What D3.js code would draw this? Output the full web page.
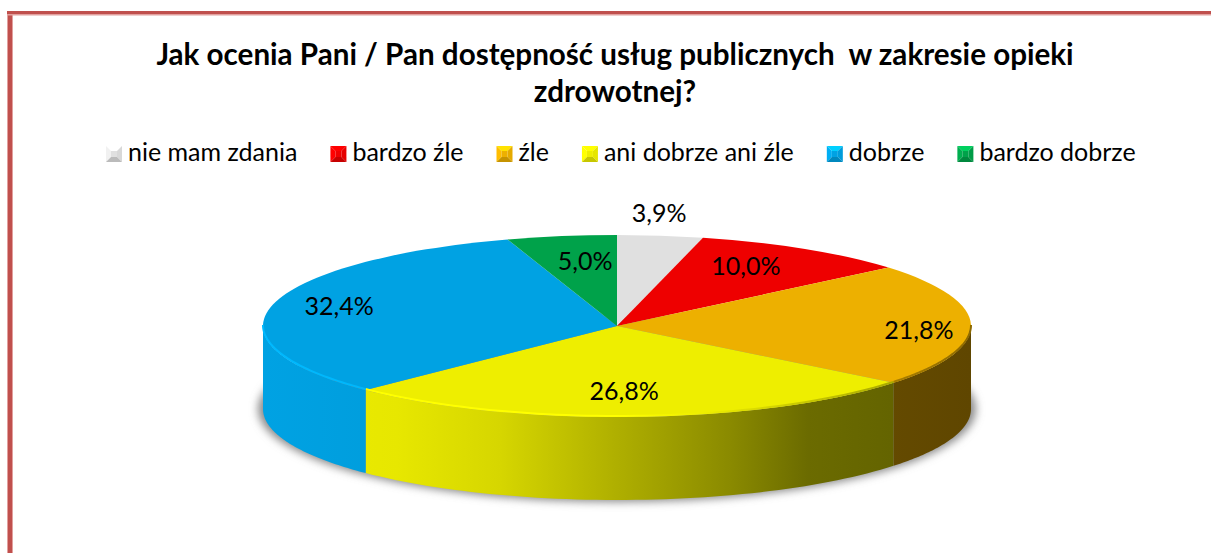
<!DOCTYPE html>
<html>
<head>
<meta charset="utf-8">
<script src="https://cdn.jsdelivr.net/npm/d3@7"></script>
<style>
  html, body { margin: 0; padding: 0; background: #fff; }
  text { font-family: Lato, "Noto Sans", sans-serif; fill: #000; }
</style>
</head>
<body>
<div class="chart"></div>
<script>
// chart data
var categories = ["nie mam zdania", "bardzo źle", "źle", "ani dobrze ani źle", "dobrze", "bardzo dobrze"];
var values = [3.9, 10.0, 21.8, 26.8, 32.4, 5.0];
var valueLabels = ["3,9%", "10,0%", "21,8%", "26,8%", "32,4%", "5,0%"];
var colors = ["#e0e0e0", "#ee0000", "#edb000", "#eeee00", "#00a2e3", "#00a24a"];
var titleLines = ["Jak ocenia Pani / Pan dostępność usług publicznych  w zakresie opieki", "zdrowotnej?"];

// label centres as fractions of the pie radii, measured from the pie centre
var labelFactors = [[0.119, -1.22], [0.364, -0.64], [0.853, 0.07], [0.02, 0.74], [-0.785, -0.2], [-0.09, -0.69]];

var width = 1211,
    height = 553,
    cx = 617,
    cy = 326,
    rx = 354,
    ry = 91,
    depth = 83;

var svg = d3.select(".chart").append("svg")
    .attr("width", width)
    .attr("height", height)
    .style("display", "block");

var defs = svg.append("defs");

// frame, only the left and top edges are inside the crop
svg.append("rect").attr("x", 7).attr("y", 11).attr("width", 6).attr("height", height - 11).attr("fill", "#e2a09e");
svg.append("rect").attr("x", 8).attr("y", 11).attr("width", 4).attr("height", height - 11).attr("fill", "#c0504d");
svg.append("rect").attr("x", 7).attr("y", 14).attr("width", width - 7).attr("height", 1.5).attr("fill", "#e2a09e");
svg.append("rect").attr("x", 7).attr("y", 11).attr("width", width - 7).attr("height", 3).attr("fill", "#c0504d");

// title
svg.selectAll(".title")
    .data(titleLines)
    .enter().append("text")
    .attr("class", "title")
    .attr("x", 615)
    .attr("y", function (d, i) { return 65 + i * 37; })
    .attr("text-anchor", "middle")
    .style("font-size", "29.6px")
    .style("font-weight", "bold")
    .style("white-space", "pre")
    .text(function (d) { return d; });

// legend, laid out from the measured text widths
var legend = svg.append("g").attr("class", "legend");
var legendX = 0;
categories.forEach(function (name, i) {
    var g = legend.append("g").attr("transform", "translate(" + legendX + ",0)");
    var base = d3.rgb(colors[i]);
    var s = 16, b = 5;
    // bevelled marker made of four trapezoids and a flat centre
    var faces = [
        { p: [[0, 0], [s, 0], [s - b, b], [b, b]], c: base.brighter(0.7) },
        { p: [[0, 0], [b, b], [b, s - b], [0, s]], c: base.brighter(0.2) },
        { p: [[s, 0], [s, s], [s - b, s - b], [s - b, b]], c: base.darker(0.1) },
        { p: [[0, s], [b, s - b], [s - b, s - b], [s, s]], c: base.darker(0.5) },
        { p: [[b, b], [s - b, b], [s - b, s - b], [b, s - b]], c: base }
    ];
    g.selectAll("polygon")
        .data(faces)
        .enter().append("polygon")
        .attr("points", function (d) { return d.p.join(" "); })
        .attr("fill", function (d) { return d.c; });
    var label = g.append("text")
        .attr("x", s + 6)
        .attr("y", 15)
        .style("font-size", "25px")
        .text(name);
    legendX += s + 6 + label.node().getComputedTextLength() + 33;
});
legend.attr("transform", "translate(106,146)");

// pie geometry
var pie = d3.pie().sort(null).value(function (d) { return d; })
    .startAngle(0).endAngle(2 * Math.PI);
var slices = pie(values);
var arc = d3.arc().innerRadius(0).outerRadius(rx);

function px(a) { return cx + rx * Math.sin(a); }
function py(a) { return cy - ry * Math.cos(a); }

// angles of the part of a slice that faces the viewer, empty for the back ones
function frontAngles(d) {
    var a0 = Math.max(d.startAngle, Math.PI / 2),
        a1 = Math.min(d.endAngle, 3 * Math.PI / 2);
    if (a1 <= a0) return [];
    return d3.range(0, 61).map(function (n) { return a0 + (a1 - a0) * n / 60; });
}

// horizontal gradient across the whole pie, stop colours from a function of the offset
function pieGradient(id, scale, colorAt) {
    var grad = defs.append("linearGradient")
        .attr("id", id)
        .attr("gradientUnits", "userSpaceOnUse")
        .attr("x1", cx - rx).attr("x2", cx + rx).attr("y1", 0).attr("y2", 0);
    scale.domain().forEach(function (t) {
        grad.append("stop").attr("offset", t).attr("stop-color", colorAt(t));
    });
}

function scaled(c, k) {
    return d3.rgb(c.r * k, c.g * k, c.b * k);
}

// soft shadow under the pie
defs.append("filter")
    .attr("id", "blur")
    .attr("x", "-10%").attr("y", "-30%").attr("width", "120%").attr("height", "160%")
    .append("feGaussianBlur").attr("stdDeviation", 4);
svg.append("ellipse")
    .attr("cx", cx)
    .attr("cy", cy + depth)
    .attr("rx", rx + 5)
    .attr("ry", ry + 2)
    .attr("fill", "#8a8a8a")
    .attr("filter", "url(#blur)");

// side wall: light stays full on the left, falling to dark on the right
var shade = d3.scaleLinear()
    .domain([0, 0.19, 0.335, 0.504, 0.66, 0.77, 0.887, 1])
    .range([1, 0.97, 0.9, 0.73, 0.58, 0.45, 0.42, 0.4]);

// top edge: bright in the light, the plain colour mid way, then dark
var rimShade = d3.scaleLinear()
    .domain([0, 0.5, 0.62, 0.8, 1])
    .range([1.12, 1.08, 1, 0.8, 0.6]);

slices.forEach(function (d, i) {
    var steps = frontAngles(d);
    if (!steps.length) return;
    var c = d3.rgb(colors[i]);

    pieGradient("side" + i, shade, function (t) { return scaled(c, shade(t)); });
    pieGradient("rim" + i, rimShade, function (t) {
        var k = rimShade(t);
        // the blue has no red to scale up, so lift it a little on its own
        return k > 1 ? d3.rgb(c.r * k, c.g * k * 1.02, c.b * k) : scaled(c, k);
    });

    var wall = d3.area()
        .x(px)
        .y0(py)
        .y1(function (a) { return py(a) + depth; });
    svg.append("path")
        .attr("class", "side")
        .attr("d", wall(steps))
        .attr("fill", "url(#side" + i + ")");
});

// top surface, a flat pie squashed to an ellipse
var topFace = svg.append("g")
    .attr("transform", "translate(" + cx + "," + cy + ") scale(1," + (ry / rx) + ")");
topFace.selectAll("path")
    .data(slices)
    .enter().append("path")
    .attr("d", arc)
    .attr("fill", function (d, i) { return colors[i]; });

// rim along the front edge
slices.forEach(function (d, i) {
    var steps = frontAngles(d);
    if (!steps.length) return;
    svg.append("path")
        .attr("class", "rim")
        .attr("d", d3.line().x(px).y(function (a) { return py(a) - 1; })(steps))
        .attr("fill", "none")
        .attr("stroke", "url(#rim" + i + ")")
        .attr("stroke-width", 2);
});

// value labels
svg.selectAll(".value")
    .data(slices)
    .enter().append("text")
    .attr("class", "value")
    .attr("x", function (d, i) { return cx + rx * labelFactors[i][0]; })
    .attr("y", function (d, i) { return cy + 7 + ry * labelFactors[i][1]; })
    .attr("text-anchor", "middle")
    .style("font-size", "25px")
    .text(function (d, i) { return valueLabels[i]; });
</script>
</body>
</html>
